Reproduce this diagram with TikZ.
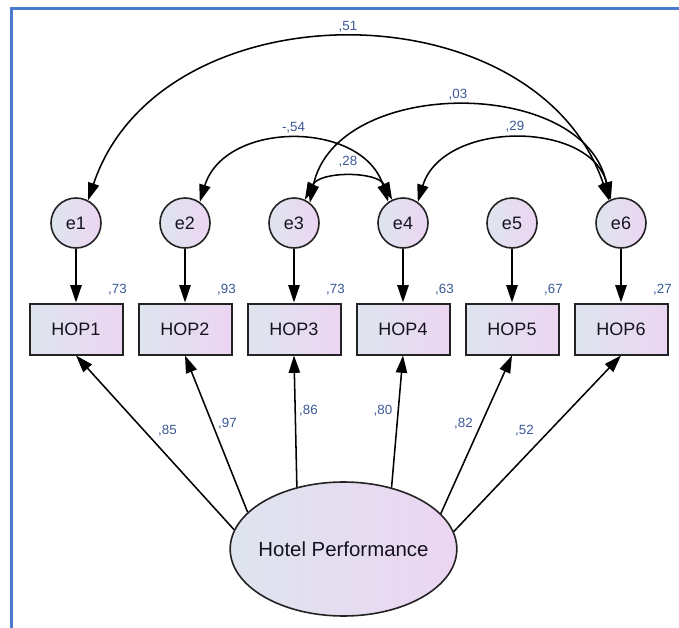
\documentclass[tikz,border=0pt]{standalone}
\usepackage{fontspec}
\setmainfont{Liberation Sans}
\usetikzlibrary{arrows.meta,shapes.geometric}
\definecolor{frameblue}{RGB}{74,122,206}
\definecolor{estblue}{RGB}{58,88,150}
\definecolor{fillL}{RGB}{222,229,238}
\definecolor{fillR}{RGB}{236,213,242}
\definecolor{ink}{RGB}{20,20,32}
\definecolor{edge}{RGB}{35,35,35}

\begin{document}
\begin{tikzpicture}[x=0.75pt,y=-0.75pt,
  head/.tip={Triangle[length=13pt,width=8.5pt]},
  link/.style={line width=1.15pt,draw=black,-head},
  covlink/.style={line width=1.15pt,draw=black,head-head},
  shade/.style={left color=fillL,right color=fillR},
  errvar/.style={circle,shade,draw=edge,line width=1.2pt,minimum size=37.5pt,
    inner sep=0pt,text=ink,font=\fontsize{13.5}{15}\selectfont},
  obsvar/.style={rectangle,shade,draw=edge,line width=1.5pt,minimum width=69.75pt,
    minimum height=38.25pt,inner sep=0pt,text=ink,font=\fontsize{13.5}{15}\selectfont},
  latent/.style={ellipse,shade,draw=edge,line width=1.2pt,minimum width=170pt,
    minimum height=100.5pt,inner xsep=-6pt,inner ysep=0pt,text=ink,
    font=\fontsize{15.3}{18}\selectfont},
  est/.style={text=estblue,font=\fontsize{10}{12}\selectfont,inner sep=0pt}
]
\useasboundingbox (0,0) rectangle (679,628);

% frame
\draw[frameblue,line width=1.6pt] (11.5,628) -- (11.5,8.5) -- (679,8.5);

% latent factor
\node[latent] (hp) at (343.5,549) {Hotel Performance};

% indicators and their error terms
\foreach \i/\x/\r in {1/76/{,73}, 2/185/{,93}, 3/294/{,73}, 4/403/{,63}, 5/512/{,67}, 6/621/{,27}}{
  \node[obsvar] (hop\i) at (\x,329) {HOP\i};
  \node[errvar] (e\i) at (\x,223) {e\i};
  \node[est] (r\i) at (\x+41.5,290) {\r};
  \draw[link] (e\i) -- (hop\i);
}

% factor loadings
\draw[link] (hp.170.1) -- (hop1.south);
\draw[link] (hp.159.8) -- (hop2.south);
\draw[link] (hp.127.9) -- (hop3.south);
\draw[link] (hp.52.1) -- (hop4.south);
\draw[link] (hp.20.2) -- (hop5.south);
\draw[link] (hp.9.9) -- (hop6.south);

\node[est] (l1) at (167.5,431) {,85};
\node[est] (l2) at (227.5,424) {,97};
\node[est] (l3) at (308.5,411) {,86};
\node[est] (l4) at (383,411) {,80};
\node[est] (l5) at (463.5,424) {,82};
\node[est] (l6) at (524.5,431) {,52};

% error covariances
\draw[covlink] (e1.62) .. controls (160,-15) and (536,-15) .. (e6.118);
\draw[covlink] (e3.52) .. controls (335,76) and (585,76) .. (e6.116);
\draw[covlink] (e2.55) .. controls (225,120) and (363,120) .. (e4.125);
\draw[covlink] (e3.65) .. controls (320,171) and (377,171) .. (e4.115);
\draw[covlink] (e4.55) .. controls (443,120) and (590,120) .. (e6.113);

\node[est] (c16) at (348,27) {,51};
\node[est] (c36) at (458,95) {,03};
\node[est] (c24) at (293.5,128) {-,54};
\node[est] (c34) at (348,162) {,28};
\node[est] (c46) at (515,127) {,29};
\end{tikzpicture}
\end{document}
